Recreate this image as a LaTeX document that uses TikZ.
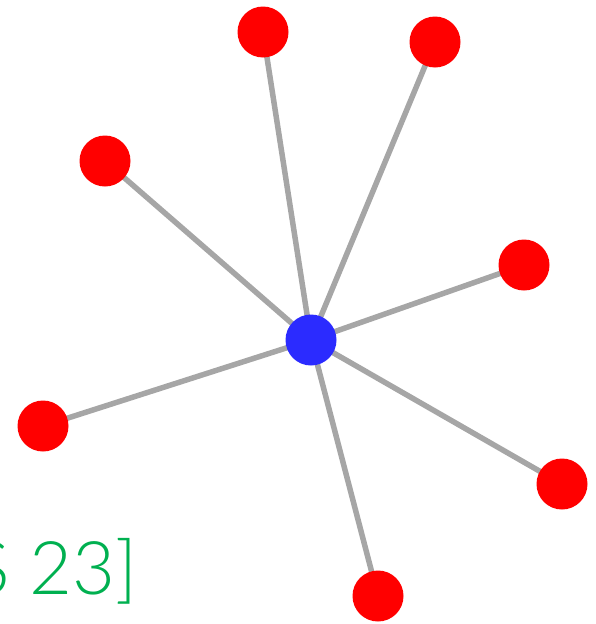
\documentclass[tikz,border=0pt]{standalone}
\usepackage{fontspec}
\setmainfont{Lato Light}
\definecolor{edgegray}{HTML}{A6A6A6}
\definecolor{leafred}{HTML}{FF0000}
\definecolor{hubblue}{HTML}{2B2BFF}
\definecolor{lblgreen}{HTML}{00B050}
\begin{document}
\begin{tikzpicture}[x=1pt,y=-1pt,
  leaf/.style={circle,fill=leafred,minimum size=51pt,inner sep=0pt},
  hub/.style={circle,fill=hubblue,minimum size=51pt,inner sep=0pt},
  edge/.style={draw=edgegray,line width=5.5pt}]
\useasboundingbox (0,0) rectangle (596,624);
\coordinate (c) at (311,340);
\node[anchor=base east,text=lblgreen,font=\fontsize{74}{74}\selectfont,inner sep=0pt] (lbl) at (138,594) {[S 23]};
\foreach \n/\x/\y in {a/263/32, b/435/42, d/105/161, e/524/265, f/43/426, g/562/484, h/378/596}{
  \coordinate (p\n) at (\x,\y);
  \draw[edge] (c) -- (p\n);
}
\foreach \n in {a,b,d,e,f,g,h}{
  \node[leaf] (\n) at (p\n) {};
}
\node[hub] (hub) at (c) {};
\end{tikzpicture}
\end{document}
